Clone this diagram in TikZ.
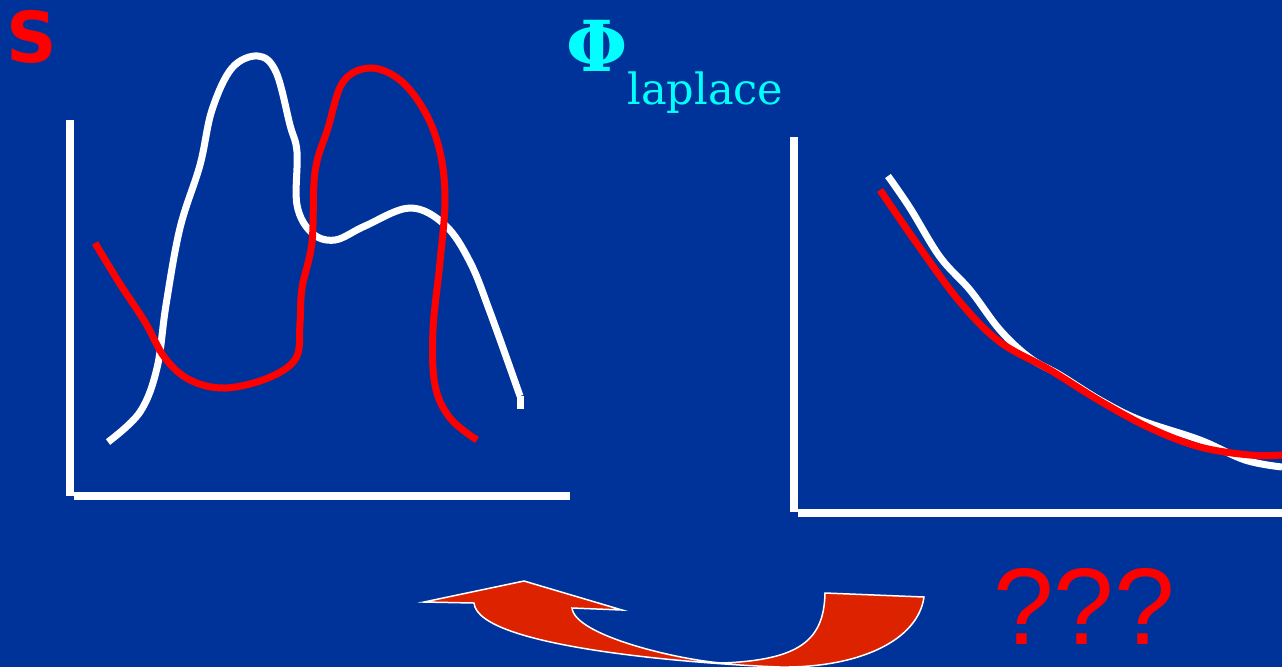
\documentclass[tikz,border=0pt]{standalone}
\usepackage{fontspec}
\setmainfont{DejaVu Serif}
\setsansfont{DejaVu Sans}
\newfontfamily\qfont{Liberation Sans}
\usetikzlibrary{calc}

\definecolor{slidebg}{RGB}{0,51,153}
\definecolor{arrowred}{RGB}{221,34,0}
\definecolor{labelcyan}{RGB}{0,255,255}

\begin{document}
\begin{tikzpicture}[
    x=0.2mm, y=-0.2mm, % one unit = one pixel of the slide
    axis/.style={draw=white, line width=1.5mm},
    trace/.style={line width=1.4mm, smooth, tension=0.6},
    txt/.style={inner sep=0pt, anchor=base west}
]

% Background
\fill[slidebg] (0,0) rectangle (1282,667);
\useasboundingbox (0,0) rectangle (1282,667);

% Titles
\node[txt, red, font=\sffamily\bfseries\fontsize{40}{48}\selectfont] (s) at (6,62) {S};
\node[txt, labelcyan, font=\bfseries\fontsize{40}{48}\selectfont] (phi) at (566,71) {Φ};
\node[txt, labelcyan, font=\fontsize{24.5}{29}\selectfont] (lap) at (627,104) {laplace};
\node[txt, red, font=\qfont\fontsize{62}{74}\selectfont] (qq) at (993,644) {???};

% Left plot axes
\draw[axis] (70,120) -- (70,496);
\draw[axis] (74,496) -- (570,496);

% Right plot axes
\draw[axis] (794,137) -- (794,512);
\draw[axis] (798,513) -- (1282,513);

% Left plot: white trace
\draw[trace, white] plot coordinates {(108,442) (140,412) (157,368) (166,305) (180,228) (200,165)
    (212,110) (232,68) (258,56) (276,72) (290,125) (297,152) (297,205) (312,233) (335,240)
    (365,226) (410,208) (445,225) (470,262) (490,312) (520,396)};
\draw[white, line width=1.4mm] (520,396) -- (520,409);

% Left plot: red trace
\draw[trace, red] plot coordinates {(95,243) (120,284) (145,322) (165,358) (190,380) (225,388)
    (268,378) (296,358) (300,323) (302,288) (312,242) (315,172) (328,128) (343,82) (370,68)
    (400,80) (425,112) (440,152) (445,200) (440,262) (433,330) (435,385) (450,418) (477,440)};

% Right plot: white trace
\draw[trace, white] plot coordinates {(888,176) (910,208) (940,257) (970,290) (1000,330)
    (1030,358) (1060,375) (1100,400) (1140,420) (1200,440) (1245,460) (1282,467)};

% Right plot: red trace
\draw[trace, red] plot coordinates {(880,190) (920,248) (960,302) (1000,342) (1050,370)
    (1100,401) (1150,428) (1200,447) (1250,455) (1282,455)};

% Curved arrow
\filldraw[fill=arrowred, draw=white, line width=0.3mm, line join=miter]
    (424,602) -- (524,581) -- (622,610) -- (572,608)
    .. controls (575,636) and (680,660) .. (722,663)
    .. controls (800,660) and (824,640) .. (825,593)
    -- (924,597)
    .. controls (918,640) and (860,668) .. (780,667)
    .. controls (700,664) and (478,648) .. (474,603)
    -- cycle;

\end{tikzpicture}
\end{document}
